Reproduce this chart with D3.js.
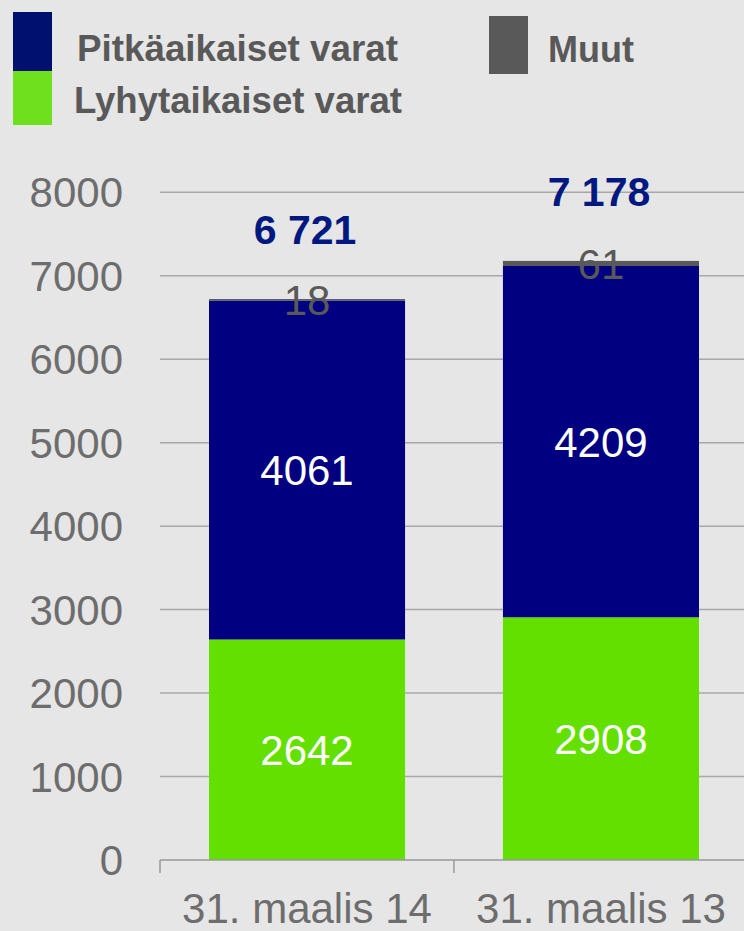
<!DOCTYPE html>
<html>
<head>
<meta charset="utf-8">
<script src="https://cdn.jsdelivr.net/npm/d3@7"></script>
<style>
  html, body { margin: 0; padding: 0; background: #e6e6e6; }
  svg { display: block; font-family: "Liberation Sans", Arial, sans-serif; }
</style>
</head>
<body>
<div id="chart"></div>
<script>
// data
var categories = ['31. maalis 14', '31. maalis 13'];
var lyhytaikaiset = [2642, 2908];
var pitkaaikaiset = [4061, 4209];
var muut = [18, 61];
var totalLabels = ['6 721', '7 178'];
var yTicks = [0, 1000, 2000, 3000, 4000, 5000, 6000, 7000, 8000];

var seriesKeys = ['lyhyt', 'pitka', 'muut'];
var colors = { lyhyt: '#64e000', pitka: '#000080', muut: '#595959' };

var width = 744, height = 931;

var rows = categories.map((c, i) => ({
    cat: c, lyhyt: lyhytaikaiset[i], pitka: pitkaaikaiset[i], muut: muut[i], total: totalLabels[i]
}));

var svg = d3.select('#chart').append('svg')
    .attr('width', width)
    .attr('height', height);

svg.append('rect')
    .attr('width', width)
    .attr('height', height)
    .attr('fill', '#e6e6e6');

var x = d3.scaleBand()
    .domain(categories)
    .range([160, 748])
    .paddingInner(0.333)
    .paddingOuter(0.1667);

var y = d3.scaleLinear()
    .domain([0, 8000])
    .range([860, 192.3]);

// gridlines
svg.selectAll('line.grid')
    .data(yTicks.filter(d => d > 0))
    .enter().append('line')
    .attr('class', 'grid')
    .attr('x1', 160).attr('x2', width)
    .attr('y1', d => y(d)).attr('y2', d => y(d))
    .attr('stroke', '#a8a8a8')
    .attr('stroke-width', 1.5);

// y tick labels
svg.selectAll('text.ytick')
    .data(yTicks)
    .enter().append('text')
    .attr('class', 'ytick')
    .attr('x', 123)
    .attr('y', d => y(d))
    .attr('dy', '0.36em')
    .attr('text-anchor', 'end')
    .attr('font-size', 42)
    .attr('fill', '#6d6d6d')
    .text(d => d);

// stacked bars
var stack = d3.stack().keys(seriesKeys);
var stacked = stack(rows);

var layers = svg.selectAll('g.layer')
    .data(stacked)
    .enter().append('g')
    .attr('class', 'layer')
    .attr('fill', d => colors[d.key]);

layers.selectAll('rect')
    .data(d => d)
    .enter().append('rect')
    .attr('x', d => x(d.data.cat))
    .attr('width', x.bandwidth())
    .attr('y', d => y(d[1]))
    .attr('height', d => y(d[0]) - y(d[1]));

// segment labels
stacked.forEach(layer => {
    svg.selectAll('text.seg-' + layer.key)
        .data(layer)
        .enter().append('text')
        .attr('class', 'seg-' + layer.key)
        .attr('x', d => x(d.data.cat) + x.bandwidth() / 2)
        .attr('y', d => y((d[0] + d[1]) / 2))
        .attr('dy', '0.36em')
        .attr('text-anchor', 'middle')
        .attr('font-size', 42)
        .attr('fill', layer.key == 'muut' ? '#595959' : '#ffffff')
        .text(d => d.data[layer.key]);
});

// totals
svg.selectAll('text.total')
    .data(rows)
    .enter().append('text')
    .attr('class', 'total')
    .attr('x', d => x(d.cat) + x.bandwidth() / 2 - 2)
    .attr('y', d => y(d.lyhyt + d.pitka + d.muut) - 55)
    .attr('text-anchor', 'middle')
    .attr('font-size', 41)
    .attr('font-weight', 'bold')
    .attr('fill', '#001880')
    .text(d => d.total);

// x axis line with ticks at band edges
svg.append('line')
    .attr('x1', 160).attr('x2', width)
    .attr('y1', y(0)).attr('y2', y(0))
    .attr('stroke', '#999999')
    .attr('stroke-width', 1.5);

svg.selectAll('line.xtick')
    .data(d3.range(categories.length + 1))
    .enter().append('line')
    .attr('class', 'xtick')
    .attr('x1', i => x.range()[0] + i * x.step())
    .attr('x2', i => x.range()[0] + i * x.step())
    .attr('y1', y(0)).attr('y2', y(0) + 13)
    .attr('stroke', '#999999')
    .attr('stroke-width', 1.5);

svg.selectAll('text.xlabel')
    .data(categories)
    .enter().append('text')
    .attr('class', 'xlabel')
    .attr('x', d => x(d) + x.bandwidth() / 2)
    .attr('y', 923)
    .attr('text-anchor', 'middle')
    .attr('font-size', 42)
    .attr('fill', '#6d6d6d')
    .text(d => d);

// legend
var legendItems = [
    { label: 'Pitkäaikaiset varat', color: '#00106e', sx: 13, sy: 12, sh: 59, tx: 77, ty: 61, len: 321 },
    { label: 'Lyhytaikaiset varat', color: '#6ee01e', sx: 13, sy: 71, sh: 54, tx: 74, ty: 113, len: 328 },
    { label: 'Muut', color: '#595959', sx: 489, sy: 16, sh: 58, tx: 548, ty: 62, len: 86 }
];

var legend = svg.append('g').attr('class', 'legend');

legend.selectAll('rect')
    .data(legendItems)
    .enter().append('rect')
    .attr('x', d => d.sx)
    .attr('y', d => d.sy)
    .attr('width', 39)
    .attr('height', d => d.sh)
    .attr('fill', d => d.color);

legend.selectAll('text')
    .data(legendItems)
    .enter().append('text')
    .attr('x', d => d.tx)
    .attr('y', d => d.ty)
    .attr('font-size', 36)
    .attr('font-weight', 'bold')
    .attr('fill', '#595959')
    .attr('textLength', d => d.len)
    .attr('lengthAdjust', 'spacingAndGlyphs')
    .text(d => d.label);
</script>
</body>
</html>
